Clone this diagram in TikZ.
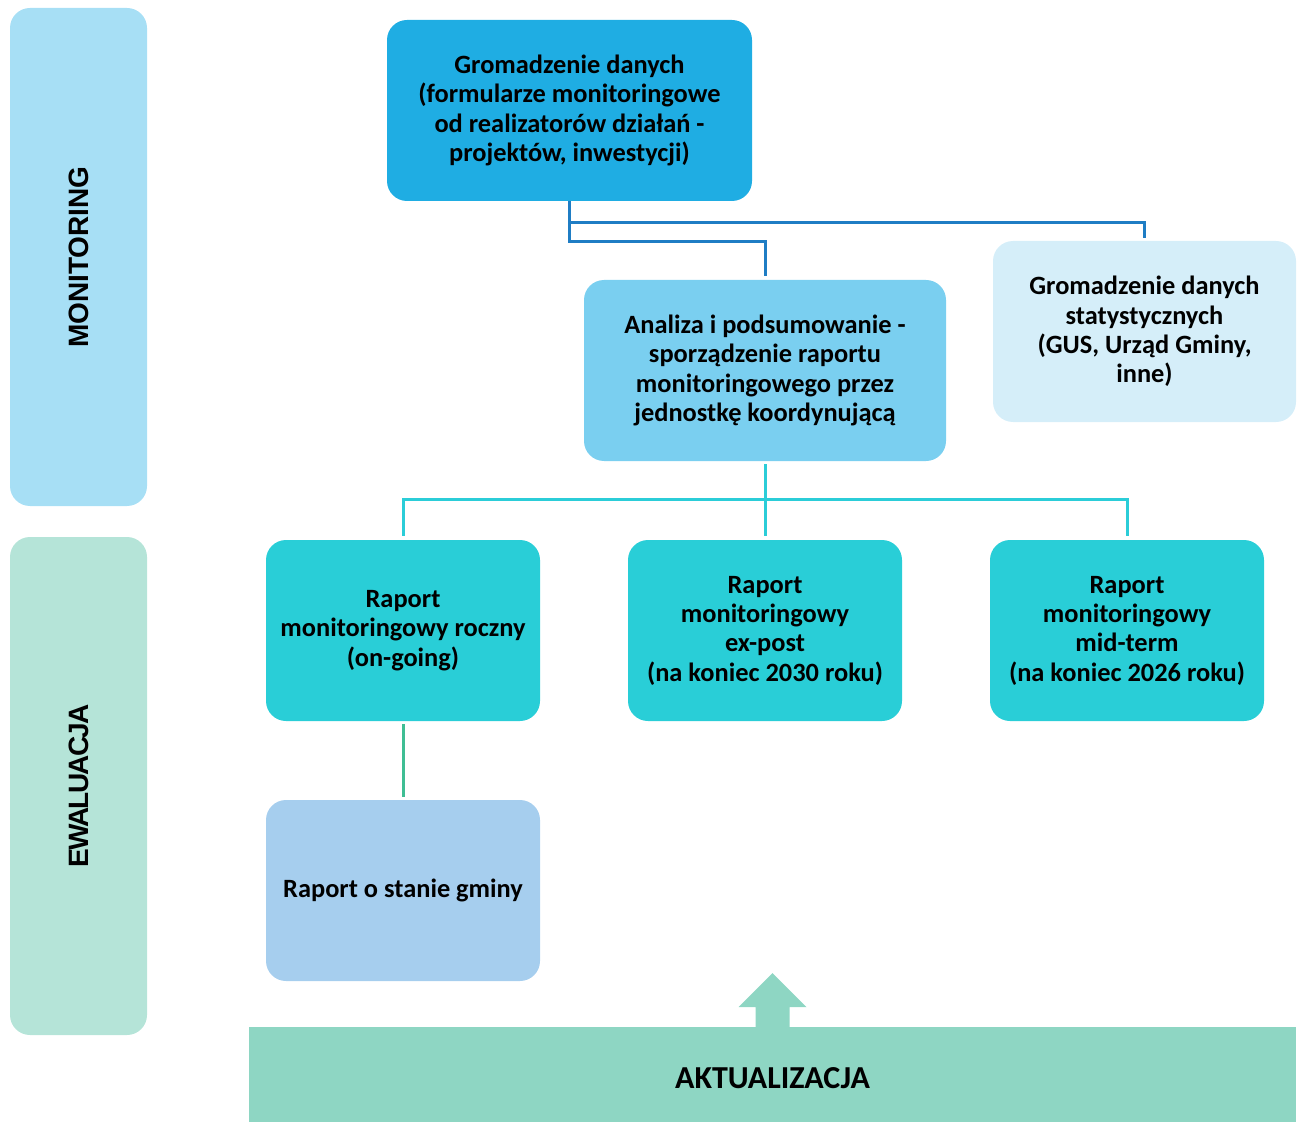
\documentclass[tikz,border=0pt]{standalone}
\usepackage{fontspec}
\setmainfont{Carlito}
\newfontfamily\bandfont{Liberation Sans}
\usetikzlibrary{calc}
\definecolor{monband}{HTML}{A7DFF5}
\definecolor{ewaband}{HTML}{B5E4D8}
\definecolor{topblue}{HTML}{1FADE3}
\definecolor{midblue}{HTML}{7ACFF0}
\definecolor{paleblue}{HTML}{D5EEF9}
\definecolor{repcyan}{HTML}{29CED7}
\definecolor{stateblue}{HTML}{A6CEEE}
\definecolor{aktgreen}{HTML}{8ED6C3}
\definecolor{linkblue}{HTML}{1F7DC4}
\definecolor{linkcyan}{HTML}{2BCDD8}
\definecolor{linkgreen}{HTML}{3FBE94}
\begin{document}
\begin{tikzpicture}[
        x=0.5pt, y=-0.5pt,
        box/.style={rectangle, rounded corners=10pt, inner sep=0pt, align=center, minimum height=90.5pt,
            font=\fontsize{13.2}{14.65}\selectfont\bfseries},
        band/.style={rectangle, rounded corners=10pt, rotate=90, minimum width=249pt, minimum height=68.5pt,
            font=\bandfont\fontsize{14}{17}\selectfont\bfseries},
        link/.style={line width=1.5pt}
    ]
    \useasboundingbox (0,0) rectangle (1304,1122);

    % Side bands
    \node (monitoring) at (78.5,257) [band, fill=monband] {MONITORING};
    \node (ewaluacja) at (78.5,786) [band, fill=ewaband] {\addfontfeature{LetterSpace=-6}EWALUACJA};

    % Monitoring
    \node (gromadzenie) at (569.5,110.5) [box, fill=topblue, minimum width=182.5pt]
        {Gromadzenie danych\\(formularze monitoringowe\\od realizatorów działań -\\projektów, inwestycji)};
    \node (analiza) at (765,370.5) [box, fill=midblue, minimum width=181pt]
        {Analiza i podsumowanie -\\sporządzenie raportu\\monitoringowego przez\\jednostkę koordynującą};
    \node (statystyka) at (1144.5,331.5) [box, fill=paleblue, minimum width=151.5pt]
        {Gromadzenie danych\\statystycznych\\(GUS, Urząd Gminy,\\inne)};

    \draw[link, linkblue] (gromadzenie.south) -- ++(0,21) -| ($(statystyka.north)+(0,-3)$);
    \draw[link, linkblue] (gromadzenie.south) -- ++(0,40) -| ($(analiza.north)+(0,-4)$);

    % Ewaluacja
    \node (roczny) at (403,630.5) [box, fill=repcyan, minimum width=137pt]
        {Raport\\monitoringowy roczny\\(on-going)};
    \node (expost) at (765,630.5) [box, fill=repcyan, minimum width=137pt]
        {Raport\\monitoringowy\\ex-post\\(na koniec 2030 roku)};
    \node (midterm) at (1127,630.5) [box, fill=repcyan, minimum width=137pt]
        {Raport\\monitoringowy\\mid-term\\(na koniec 2026 roku)};
    \node (stanie) at (403,890.5) [box, fill=stateblue, minimum width=137pt]
        {Raport o stanie gminy};

    \draw[link, linkcyan] ($(analiza.south)+(0,3)$) -- ($(expost.north)+(0,-4)$);
    \draw[link, linkcyan] ($(roczny.north)+(0,-4)$) -- ++(0,-36) -| ($(midterm.north)+(0,-4)$);
    \draw[link, linkgreen] ($(roczny.south)+(0,3)$) -- ($(stanie.north)+(0,-3)$);

    % Aktualizacja
    \node (aktualizacja) at (772.5,1078) [rectangle, fill=aktgreen, minimum width=523.5pt, minimum height=51pt,
        inner sep=0pt, font=\fontsize{16}{19}\selectfont\bfseries] {AKTUALIZACJA};
    \fill[aktgreen] ($(aktualizacja.north)+(-17,0.5)$) -- ++(0,-20) -- ++(-17,0) -- ++(34,-34)
        -- ++(34,34) -- ++(-17,0) -- ++(0,20) -- cycle;

    \end{tikzpicture}
\end{document}
